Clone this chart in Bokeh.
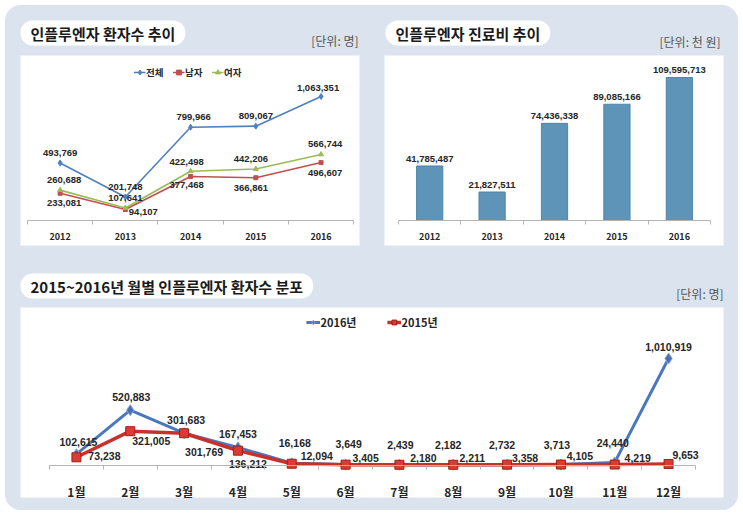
from bokeh.plotting import figure
from bokeh.models import Range1d, LinearAxis, FixedTicker, Label, ColumnDataSource, BoxAnnotation
from bokeh.layouts import column, row
from bokeh.embed import file_html
from bokeh.resources import INLINE
from bokeh.core.properties import value

# ---------------- data ----------------
years = ["2012", "2013", "2014", "2015", "2016"]
total = [493769, 201748, 799966, 809067, 1063351]
male = [233081, 94107, 377468, 366861, 496607]
female = [260688, 107641, 422498, 442206, 566744]

cost = [41785487, 21827511, 74436338, 89085166, 109595713]

months = ["1월", "2월", "3월", "4월", "5월", "6월", "7월", "8월", "9월", "10월", "11월", "12월"]
y2016 = [102615, 520883, 301683, 167453, 16168, 3649, 2439, 2182, 2732, 3713, 24440, 1010919]
y2015 = [73238, 321005, 301769, 136212, 12094, 3405, 2180, 2211, 3358, 4105, 4219, 9653]

# label placement offsets (pixels, style only)
tot_dx = [0, 0, 3, 0, -3]
tot_dy = [-10, -10, -10, -10, -9]
fem_dx = [4, 0, -4, -5, 4]
fem_dy = [-10, -10, -9, -10, -10]
mal_dx = [4, 18, -4, -5, 4]
mal_dy = [10, 2, 9, 10, 10]
d16_dx = [2, 1, 2, 0, 3, 3, 1, -5, -5, -4, -2, 0]
d16_dy = [-12, -13, -13, -13, -20, -21, -20, -20, -20, -20, -19, -12]
d15_dx = [28, 21, 20, 10, 25, 20, 24, 19, 18, 19, 23, 17]
d15_dy = [-1, 10, 19, 13, -8, -7, -7, -7, -7, -9, -7, -9]

# ---------------- style ----------------
BG = "#dbe4ee"
KR = "Noto Sans CJK KR"
NUM = "Liberation Sans"
TXT = "#262626"
AX = "#b4b4b4"


def fmt(v):
    return f"{v:,}"


def base_fig(w, h, ox, oy, x0, sx, y0, sy, white):
    """Figure whose frame fills the whole canvas.
    ox, oy: page position of the figure; x0/y0: page pixel of data zero;
    sx/sy: pixels per data unit; white: panel box (l, r, t, b) in canvas px."""
    xr = ((ox - x0) / sx, (ox + w - x0) / sx)
    yr = ((y0 - (oy + h)) / sy, (y0 - oy) / sy)
    p = figure(width=w, height=h, x_range=Range1d(*xr), y_range=Range1d(*yr),
               x_axis_type=None, y_axis_type=None, toolbar_location=None,
               output_backend="svg", title=None,
               min_border_left=0, min_border_right=0,
               min_border_top=0, min_border_bottom=0)
    p.background_fill_color = BG
    p.border_fill_color = BG
    p.outline_line_color = None
    l, r, t, b = white
    p.add_layout(BoxAnnotation(left=l, right=r, top=t, bottom=b,
                               left_units="canvas", right_units="canvas",
                               top_units="canvas", bottom_units="canvas",
                               fill_color="white", fill_alpha=1, line_color=None,
                               level="underlay"))
    return p


def add_cat_axis(p, labels, standoff, size):
    n = len(labels)
    ax = LinearAxis(ticker=FixedTicker(ticks=list(range(n)),
                                       minor_ticks=[i - 0.5 for i in range(n + 1)]),
                    fixed_location=0, bounds=(-0.5, n - 0.5),
                    major_label_overrides={i: t for i, t in enumerate(labels)},
                    axis_line_color=AX, major_tick_line_color=None,
                    major_tick_in=0, major_tick_out=0,
                    minor_tick_line_color=AX, minor_tick_in=0, minor_tick_out=4,
                    major_label_standoff=standoff,
                    major_label_text_font=KR, major_label_text_font_size=size,
                    major_label_text_font_style="bold", major_label_text_color=TXT)
    p.add_layout(ax, "below")


def add_title(p, x, yc, text):
    # canvas units: origin at top-left of the figure
    p.add_layout(Label(x=x, y=yc, x_units="canvas", y_units="canvas", text=text,
                       text_font=KR, text_font_size="15px", text_font_style="bold",
                       text_color="#1a1a1a", text_align="left", text_baseline="middle",
                       background_fill_color="white", border_radius=12,
                       padding=dict(left=10, right=10, top=2, bottom=2)))


def add_unit(p, x, yc, text):
    p.add_layout(Label(x=x, y=yc, x_units="canvas", y_units="canvas", text=text,
                       text_font=KR, text_font_size="12px", text_color="#555555",
                       text_align="right", text_baseline="middle"))


def add_values(p, xs, ys, dx, dy, size):
    src = ColumnDataSource(dict(x=xs, y=ys, t=[fmt(v) for v in ys], dx=dx, dy=dy))
    p.text(x="x", y="y", text="t", x_offset="dx", y_offset="dy", source=src,
           text_align="center", text_baseline="middle",
           text_font=value(NUM), text_font_style="bold", text_font_size=size,
           text_color=TXT)


# ---------------- panel 1: patients by year ----------------
p1 = base_fig(367, 253, 5, 5, 59.6, 65.24, 220, 116.6e-6, (15, 354, 50, 240))
xi = list(range(len(years)))
series1 = [("전체", total, "#4f81bd", "diamond", 6),
           ("남자", male, "#c0504d", "square", 4),
           ("여자", female, "#9bbb59", "triangle", 5)]
for name, vals, col, mk, sz in series1:
    p1.line(xi, vals, line_color=col, line_width=1.6, legend_label=name)
    p1.scatter(xi, vals, marker=mk, size=sz, fill_color=col, line_color=col, legend_label=name)
add_values(p1, xi, total, tot_dx, tot_dy, "9.5px")
add_values(p1, xi, female, fem_dx, fem_dy, "9.5px")
add_values(p1, xi, male, mal_dx, mal_dy, "9.5px")
add_cat_axis(p1, years, 8, "9px")
add_title(p1, 15, 27.5, "인플루엔자 환자수 추이")
add_unit(p1, 353, 35, "[단위: 명]")

# ---------------- panel 2: cost by year ----------------
p2 = base_fig(366, 253, 372, 5, 429.2, 62.41, 220, 1.305e-6, (12, 351, 50, 240))
p2.vbar(x=xi, top=cost, width=0.42, fill_color="#5e94b7", line_color="#4f85a8")
add_values(p2, xi, cost, [0] * 5, [-7] * 5, "9.5px")
add_cat_axis(p2, years, 8, "9px")
add_title(p2, 13, 27.5, "인플루엔자 진료비 추이")
add_unit(p2, 348, 36, "[단위: 천 원]")

# ---------------- panel 3: monthly ----------------
p3 = base_fig(733, 252, 5, 258, 75.93, 53.83, 464.5, 105.3e-6, (15, 718, 49, 239))
mi = list(range(len(months)))
p3.line(mi, y2016, line_color="#4a78c0", line_width=3, legend_label="2016년")
p3.scatter(mi, y2016, marker="diamond", size=11, fill_color="#4a6fb5",
           line_color="#8aa6d8", legend_label="2016년")
p3.line(mi, y2015, line_color="#c9302c", line_width=3.5, legend_label="2015년")
p3.scatter(mi, y2015, marker="square", size=9, fill_color="#dc3b34",
           line_color="#9c1f1a", legend_label="2015년")
add_values(p3, mi, y2016, d16_dx, d16_dy, "10.5px")
add_values(p3, mi, y2015, d15_dx, d15_dy, "10.5px")
add_cat_axis(p3, months, 14, "12px")
add_title(p3, 15, 27.5, "2015~2016년 월별 인플루엔자 환자수 분포")
add_unit(p3, 718, 35, "[단위: 명]")

# legends
for p, fs, gw, sp, mg in ((p1, "9.5px", 12, 6, 60), (p3, "11px", 14, 30, 56)):
    lg = p.legend[0]
    lg.orientation = "horizontal"
    lg.location = "top_center"
    lg.background_fill_alpha = 0
    lg.border_line_color = None
    lg.label_text_font = KR
    lg.label_text_font_style = "bold"
    lg.label_text_font_size = fs
    lg.label_text_color = TXT
    lg.glyph_width = gw
    lg.glyph_height = 12
    lg.label_standoff = 1
    lg.spacing = sp
    lg.padding = 0
    lg.margin = mg

layout = column(row(p1, p2), p3, margin=(5, 0, 0, 5),
                styles={"border-radius": "16px", "overflow": "hidden",
                        "background-color": BG})

open("out.html", "w").write(file_html(layout, INLINE))
